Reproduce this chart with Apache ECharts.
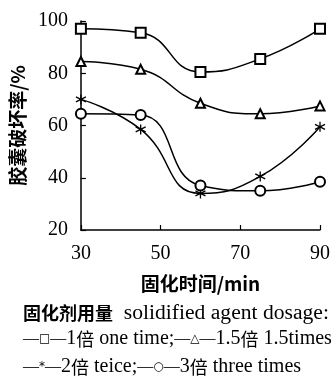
<!DOCTYPE html>
<html>
<head>
<meta charset="utf-8">
<script src="https://cdn.jsdelivr.net/npm/echarts@6/dist/echarts.min.js"></script>
<style>html,body{margin:0;padding:0;background:#fff;}#c{width:334px;height:389px;}</style>
</head>
<body>
<div id="c"></div>
<script>
const times = [30, 45, 60, 75, 90];
const oneTime = [97, 95.5, 80.5, 85.5, 97];
const onePointFive = [84.5, 81.5, 68.5, 64.5, 67.5];
const twoTimes = [70, 58.5, 34, 40.5, 59.5];
const threeTimes = [64.5, 64, 37, 35, 38.5];
const xTicks = [30, 50, 70, 90];
const yTicks = [20, 40, 60, 80, 100];

const serif = '"Liberation Serif","DejaVu Serif",serif';
const cjk = '"Noto Sans CJK SC",sans-serif';

const chart = echarts.init(document.getElementById('c'));
const starPath = 'path://M0,-5L0,5M-4.33,-2.5L4.33,2.5M-4.33,2.5L4.33,-2.5';

function mk(name, data, symbol, size) {
  return {
    name, type: 'line', data: times.map((t, i) => [t, data[i]]),
    smooth: 0.5, symbol, symbolSize: size, showAllSymbol: true,
    lineStyle: { color: '#000', width: 1.5 },
    itemStyle: { color: '#000', borderColor: '#000', borderWidth: 1.3 },
    z: 3
  };
}

const legendRich = {
  d: { fontFamily: serif, fontSize: 16, fill: '#000' },
  s: { fontFamily: '"DejaVu Sans",sans-serif', fontSize: 12, fill: '#000' },
  e: { fontFamily: serif, fontSize: 20, fill: '#000' },
  c: { fontFamily: cjk, fontSize: 18, fill: '#000' }
};

chart.setOption({
  backgroundColor: '#fff',
  animation: false,
  grid: { left: 75, right: 14, top: 21, bottom: 159 },
  xAxis: {
    type: 'value', min: 30, max: 90, interval: 20,
    name: '固化时间/min', nameLocation: 'middle', nameGap: 44,
    nameTextStyle: { fontFamily: cjk, fontSize: 19, fontWeight: 'bold', color: '#000' },
    axisLine: { lineStyle: { color: '#000', width: 1.5 } },
    axisTick: { inside: true, length: 5, lineStyle: { color: '#000', width: 1.2 } },
    axisLabel: { fontFamily: serif, fontSize: 20, color: '#000', margin: 14,
      formatter: v => xTicks.includes(v) ? String(v) : '' },
    splitLine: { show: false }
  },
  yAxis: {
    type: 'value', min: 20, max: 100, interval: 20,
    name: '胶囊破坏率/%', nameLocation: 'middle', nameGap: 37, nameRotate: 90,
    nameTextStyle: { fontFamily: cjk, fontSize: 19, fontWeight: 'bold', color: '#000' },
    axisLine: { lineStyle: { color: '#000', width: 1.5 } },
    axisTick: { inside: true, length: 5, lineStyle: { color: '#000', width: 1.2 } },
    axisLabel: { fontFamily: serif, fontSize: 20, color: '#000', margin: 13,
      formatter: v => yTicks.includes(v) ? String(v) : '' },
    splitLine: { show: false }
  },
  series: [
    mk('1倍', oneTime, 'emptyRect', 10),
    mk('1.5倍', onePointFive, 'emptyTriangle', 9),
    mk('2倍', twoTimes, starPath, 10),
    mk('3倍', threeTimes, 'emptyCircle', 10)
  ],
  graphic: [
    { type: 'text', left: 23, top: 302, style: {
      text: '{b|固化剂用量}{e|  solidified agent dosage:}',
      rich: { b: { fontFamily: cjk, fontSize: 18, fontWeight: 'bold', fill: '#000' },
              e: { fontFamily: serif, fontSize: 21.6, fill: '#000' } } } },
    { type: 'text', left: 23, top: 329, style: {
      text: '{d|—}{s|□}{d|—}{e|1}{c|倍}{e| one time;}{d|—}{s|△}{d|—}{e|1.5}{c|倍}{e| 1.5times}',
      rich: legendRich } },
    { type: 'text', left: 23, top: 357, style: {
      text: '{d|—}{s|*}{d|—}{e|2}{c|倍}{e| teice;}{d|—}{s|○}{d|—}{e|3}{c|倍}{e| three times}',
      rich: legendRich } }
  ]
});
</script>
</body>
</html>
